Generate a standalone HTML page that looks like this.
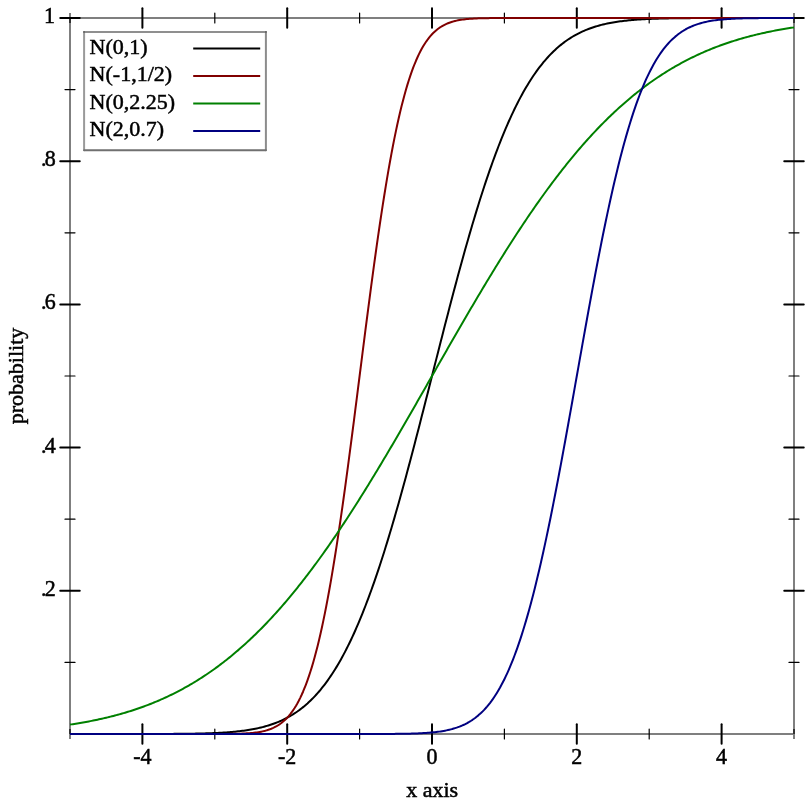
<!DOCTYPE html>
<html><head><meta charset="utf-8"><style>
html,body{margin:0;padding:0;background:#fff;width:812px;height:812px;overflow:hidden}
svg{display:block;will-change:transform}
</style></head><body><svg width="812" height="812" viewBox="0 0 812 812"><rect x="70.0" y="18.0" width="724.0" height="716.0" fill="none" stroke="#7f7f7f" stroke-width="2"/><line x1="70.0" y1="13.0" x2="70.0" y2="18.0" stroke="#7f7f7f" stroke-width="2"/><line x1="70.0" y1="734.0" x2="70.0" y2="739.0" stroke="#7f7f7f" stroke-width="2"/><line x1="794.0" y1="13.0" x2="794.0" y2="18.0" stroke="#7f7f7f" stroke-width="2"/><line x1="794.0" y1="734.0" x2="794.0" y2="739.0" stroke="#7f7f7f" stroke-width="2"/><g stroke="#000" stroke-width="2" stroke-linecap="round"><line x1="70.00" y1="18.0" x2="70.00" y2="23.0" stroke-linecap="butt" stroke-width="1.2"/><line x1="70.00" y1="729.0" x2="70.00" y2="734.0" stroke-linecap="butt" stroke-width="1.2"/><line x1="142.40" y1="8.25" x2="142.40" y2="27.75"/><line x1="142.40" y1="724.25" x2="142.40" y2="743.75"/><line x1="214.80" y1="13.0" x2="214.80" y2="23.0" stroke-width="1.2"/><line x1="214.80" y1="729.0" x2="214.80" y2="739.0" stroke-width="1.2"/><line x1="287.20" y1="8.25" x2="287.20" y2="27.75"/><line x1="287.20" y1="724.25" x2="287.20" y2="743.75"/><line x1="359.60" y1="13.0" x2="359.60" y2="23.0" stroke-width="1.2"/><line x1="359.60" y1="729.0" x2="359.60" y2="739.0" stroke-width="1.2"/><line x1="432.00" y1="8.25" x2="432.00" y2="27.75"/><line x1="432.00" y1="724.25" x2="432.00" y2="743.75"/><line x1="504.40" y1="13.0" x2="504.40" y2="23.0" stroke-width="1.2"/><line x1="504.40" y1="729.0" x2="504.40" y2="739.0" stroke-width="1.2"/><line x1="576.80" y1="8.25" x2="576.80" y2="27.75"/><line x1="576.80" y1="724.25" x2="576.80" y2="743.75"/><line x1="649.20" y1="13.0" x2="649.20" y2="23.0" stroke-width="1.2"/><line x1="649.20" y1="729.0" x2="649.20" y2="739.0" stroke-width="1.2"/><line x1="721.60" y1="8.25" x2="721.60" y2="27.75"/><line x1="721.60" y1="724.25" x2="721.60" y2="743.75"/><line x1="794.00" y1="18.0" x2="794.00" y2="23.0" stroke-linecap="butt" stroke-width="1.2"/><line x1="794.00" y1="729.0" x2="794.00" y2="734.0" stroke-linecap="butt" stroke-width="1.2"/><line x1="65.0" y1="662.40" x2="75.0" y2="662.40" stroke-width="1.2"/><line x1="789.0" y1="662.40" x2="799.0" y2="662.40" stroke-width="1.2"/><line x1="60.25" y1="590.80" x2="79.75" y2="590.80"/><line x1="784.25" y1="590.80" x2="803.75" y2="590.80"/><line x1="65.0" y1="519.20" x2="75.0" y2="519.20" stroke-width="1.2"/><line x1="789.0" y1="519.20" x2="799.0" y2="519.20" stroke-width="1.2"/><line x1="60.25" y1="447.60" x2="79.75" y2="447.60"/><line x1="784.25" y1="447.60" x2="803.75" y2="447.60"/><line x1="65.0" y1="376.00" x2="75.0" y2="376.00" stroke-width="1.2"/><line x1="789.0" y1="376.00" x2="799.0" y2="376.00" stroke-width="1.2"/><line x1="60.25" y1="304.40" x2="79.75" y2="304.40"/><line x1="784.25" y1="304.40" x2="803.75" y2="304.40"/><line x1="65.0" y1="232.80" x2="75.0" y2="232.80" stroke-width="1.2"/><line x1="789.0" y1="232.80" x2="799.0" y2="232.80" stroke-width="1.2"/><line x1="60.25" y1="161.20" x2="79.75" y2="161.20"/><line x1="784.25" y1="161.20" x2="803.75" y2="161.20"/><line x1="65.0" y1="89.60" x2="75.0" y2="89.60" stroke-width="1.2"/><line x1="789.0" y1="89.60" x2="799.0" y2="89.60" stroke-width="1.2"/><line x1="60.25" y1="18.00" x2="79.75" y2="18.00"/><line x1="784.25" y1="18.00" x2="803.75" y2="18.00"/></g><g fill="none" stroke-width="2" stroke-linejoin="round"><path d="M70.00,734.00 L71.45,734.00 L72.90,734.00 L74.34,734.00 L75.79,734.00 L77.24,734.00 L78.69,734.00 L80.14,734.00 L81.58,734.00 L83.03,734.00 L84.48,734.00 L85.93,734.00 L87.38,734.00 L88.82,734.00 L90.27,734.00 L91.72,734.00 L93.17,734.00 L94.62,734.00 L96.06,734.00 L97.51,734.00 L98.96,734.00 L100.41,734.00 L101.86,734.00 L103.30,734.00 L104.75,734.00 L106.20,734.00 L107.65,734.00 L109.10,734.00 L110.54,734.00 L111.99,734.00 L113.44,734.00 L114.89,734.00 L116.34,734.00 L117.78,733.99 L119.23,733.99 L120.68,733.99 L122.13,733.99 L123.58,733.99 L125.02,733.99 L126.47,733.99 L127.92,733.99 L129.37,733.99 L130.82,733.99 L132.26,733.99 L133.71,733.99 L135.16,733.99 L136.61,733.98 L138.06,733.98 L139.50,733.98 L140.95,733.98 L142.40,733.98 L143.85,733.98 L145.30,733.97 L146.74,733.97 L148.19,733.97 L149.64,733.97 L151.09,733.96 L152.54,733.96 L153.98,733.96 L155.43,733.95 L156.88,733.95 L158.33,733.94 L159.78,733.94 L161.22,733.93 L162.67,733.93 L164.12,733.92 L165.57,733.92 L167.02,733.91 L168.46,733.90 L169.91,733.89 L171.36,733.89 L172.81,733.88 L174.26,733.87 L175.70,733.86 L177.15,733.85 L178.60,733.83 L180.05,733.82 L181.50,733.81 L182.94,733.79 L184.39,733.78 L185.84,733.76 L187.29,733.74 L188.74,733.72 L190.18,733.70 L191.63,733.68 L193.08,733.65 L194.53,733.63 L195.98,733.60 L197.42,733.57 L198.87,733.54 L200.32,733.51 L201.77,733.47 L203.22,733.44 L204.66,733.40 L206.11,733.35 L207.56,733.31 L209.01,733.26 L210.46,733.21 L211.90,733.15 L213.35,733.10 L214.80,733.03 L216.25,732.97 L217.70,732.90 L219.14,732.83 L220.59,732.75 L222.04,732.66 L223.49,732.58 L224.94,732.48 L226.38,732.38 L227.83,732.28 L229.28,732.17 L230.73,732.05 L232.18,731.93 L233.62,731.80 L235.07,731.66 L236.52,731.52 L237.97,731.36 L239.42,731.20 L240.86,731.03 L242.31,730.85 L243.76,730.66 L245.21,730.46 L246.66,730.25 L248.10,730.03 L249.55,729.80 L251.00,729.55 L252.45,729.30 L253.90,729.03 L255.34,728.74 L256.79,728.44 L258.24,728.13 L259.69,727.80 L261.14,727.46 L262.58,727.10 L264.03,726.72 L265.48,726.32 L266.93,725.91 L268.38,725.47 L269.82,725.02 L271.27,724.54 L272.72,724.05 L274.17,723.53 L275.62,722.98 L277.06,722.42 L278.51,721.83 L279.96,721.21 L281.41,720.57 L282.86,719.90 L284.30,719.20 L285.75,718.47 L287.20,717.71 L288.65,716.92 L290.10,716.10 L291.54,715.25 L292.99,714.36 L294.44,713.44 L295.89,712.48 L297.34,711.49 L298.78,710.45 L300.23,709.38 L301.68,708.27 L303.13,707.12 L304.58,705.93 L306.02,704.69 L307.47,703.42 L308.92,702.09 L310.37,700.72 L311.82,699.30 L313.26,697.84 L314.71,696.33 L316.16,694.76 L317.61,693.15 L319.06,691.48 L320.50,689.77 L321.95,687.99 L323.40,686.17 L324.85,684.28 L326.30,682.34 L327.74,680.35 L329.19,678.29 L330.64,676.18 L332.09,674.00 L333.54,671.77 L334.98,669.47 L336.43,667.11 L337.88,664.69 L339.33,662.20 L340.78,659.65 L342.22,657.04 L343.67,654.36 L345.12,651.61 L346.57,648.80 L348.02,645.91 L349.46,642.97 L350.91,639.95 L352.36,636.86 L353.81,633.71 L355.26,630.49 L356.70,627.19 L358.15,623.83 L359.60,620.40 L361.05,616.90 L362.50,613.33 L363.94,609.70 L365.39,605.99 L366.84,602.21 L368.29,598.37 L369.74,594.46 L371.18,590.47 L372.63,586.43 L374.08,582.31 L375.53,578.13 L376.98,573.88 L378.42,569.57 L379.87,565.19 L381.32,560.75 L382.77,556.25 L384.22,551.69 L385.66,547.06 L387.11,542.38 L388.56,537.63 L390.01,532.83 L391.46,527.98 L392.90,523.07 L394.35,518.10 L395.80,513.09 L397.25,508.02 L398.70,502.91 L400.14,497.74 L401.59,492.53 L403.04,487.28 L404.49,481.99 L405.94,476.65 L407.38,471.28 L408.83,465.87 L410.28,460.42 L411.73,454.95 L413.18,449.44 L414.62,443.90 L416.07,438.34 L417.52,432.75 L418.97,427.14 L420.42,421.51 L421.86,415.86 L423.31,410.20 L424.76,404.52 L426.21,398.83 L427.66,393.13 L429.10,387.42 L430.55,381.71 L432.00,376.00 L433.45,370.29 L434.90,364.58 L436.34,358.87 L437.79,353.17 L439.24,347.48 L440.69,341.80 L442.14,336.14 L443.58,330.49 L445.03,324.86 L446.48,319.25 L447.93,313.66 L449.38,308.10 L450.82,302.56 L452.27,297.05 L453.72,291.58 L455.17,286.13 L456.62,280.72 L458.06,275.35 L459.51,270.01 L460.96,264.72 L462.41,259.47 L463.86,254.26 L465.30,249.09 L466.75,243.98 L468.20,238.91 L469.65,233.90 L471.10,228.93 L472.54,224.02 L473.99,219.17 L475.44,214.37 L476.89,209.62 L478.34,204.94 L479.78,200.31 L481.23,195.75 L482.68,191.25 L484.13,186.81 L485.58,182.43 L487.02,178.12 L488.47,173.87 L489.92,169.69 L491.37,165.57 L492.82,161.53 L494.26,157.54 L495.71,153.63 L497.16,149.79 L498.61,146.01 L500.06,142.30 L501.50,138.67 L502.95,135.10 L504.40,131.60 L505.85,128.17 L507.30,124.81 L508.74,121.51 L510.19,118.29 L511.64,115.14 L513.09,112.05 L514.54,109.03 L515.98,106.09 L517.43,103.20 L518.88,100.39 L520.33,97.64 L521.78,94.96 L523.22,92.35 L524.67,89.80 L526.12,87.31 L527.57,84.89 L529.02,82.53 L530.46,80.23 L531.91,78.00 L533.36,75.82 L534.81,73.71 L536.26,71.65 L537.70,69.66 L539.15,67.72 L540.60,65.83 L542.05,64.01 L543.50,62.23 L544.94,60.52 L546.39,58.85 L547.84,57.24 L549.29,55.67 L550.74,54.16 L552.18,52.70 L553.63,51.28 L555.08,49.91 L556.53,48.58 L557.98,47.31 L559.42,46.07 L560.87,44.88 L562.32,43.73 L563.77,42.62 L565.22,41.55 L566.66,40.51 L568.11,39.52 L569.56,38.56 L571.01,37.64 L572.46,36.75 L573.90,35.90 L575.35,35.08 L576.80,34.29 L578.25,33.53 L579.70,32.80 L581.14,32.10 L582.59,31.43 L584.04,30.79 L585.49,30.17 L586.94,29.58 L588.38,29.02 L589.83,28.47 L591.28,27.95 L592.73,27.46 L594.18,26.98 L595.62,26.53 L597.07,26.09 L598.52,25.68 L599.97,25.28 L601.42,24.90 L602.86,24.54 L604.31,24.20 L605.76,23.87 L607.21,23.56 L608.66,23.26 L610.10,22.97 L611.55,22.70 L613.00,22.45 L614.45,22.20 L615.90,21.97 L617.34,21.75 L618.79,21.54 L620.24,21.34 L621.69,21.15 L623.14,20.97 L624.58,20.80 L626.03,20.64 L627.48,20.48 L628.93,20.34 L630.38,20.20 L631.82,20.07 L633.27,19.95 L634.72,19.83 L636.17,19.72 L637.62,19.62 L639.06,19.52 L640.51,19.42 L641.96,19.34 L643.41,19.25 L644.86,19.17 L646.30,19.10 L647.75,19.03 L649.20,18.97 L650.65,18.90 L652.10,18.85 L653.54,18.79 L654.99,18.74 L656.44,18.69 L657.89,18.65 L659.34,18.60 L660.78,18.56 L662.23,18.53 L663.68,18.49 L665.13,18.46 L666.58,18.43 L668.02,18.40 L669.47,18.37 L670.92,18.35 L672.37,18.32 L673.82,18.30 L675.26,18.28 L676.71,18.26 L678.16,18.24 L679.61,18.22 L681.06,18.21 L682.50,18.19 L683.95,18.18 L685.40,18.17 L686.85,18.15 L688.30,18.14 L689.74,18.13 L691.19,18.12 L692.64,18.11 L694.09,18.11 L695.54,18.10 L696.98,18.09 L698.43,18.08 L699.88,18.08 L701.33,18.07 L702.78,18.07 L704.22,18.06 L705.67,18.06 L707.12,18.05 L708.57,18.05 L710.02,18.04 L711.46,18.04 L712.91,18.04 L714.36,18.03 L715.81,18.03 L717.26,18.03 L718.70,18.03 L720.15,18.02 L721.60,18.02 L723.05,18.02 L724.50,18.02 L725.94,18.02 L727.39,18.02 L728.84,18.01 L730.29,18.01 L731.74,18.01 L733.18,18.01 L734.63,18.01 L736.08,18.01 L737.53,18.01 L738.98,18.01 L740.42,18.01 L741.87,18.01 L743.32,18.01 L744.77,18.01 L746.22,18.01 L747.66,18.00 L749.11,18.00 L750.56,18.00 L752.01,18.00 L753.46,18.00 L754.90,18.00 L756.35,18.00 L757.80,18.00 L759.25,18.00 L760.70,18.00 L762.14,18.00 L763.59,18.00 L765.04,18.00 L766.49,18.00 L767.94,18.00 L769.38,18.00 L770.83,18.00 L772.28,18.00 L773.73,18.00 L775.18,18.00 L776.62,18.00 L778.07,18.00 L779.52,18.00 L780.97,18.00 L782.42,18.00 L783.86,18.00 L785.31,18.00 L786.76,18.00 L788.21,18.00 L789.66,18.00 L791.10,18.00 L792.55,18.00 L794.00,18.00" stroke="#000000"/><path d="M70.00,734.00 L71.45,734.00 L72.90,734.00 L74.34,734.00 L75.79,734.00 L77.24,734.00 L78.69,734.00 L80.14,734.00 L81.58,734.00 L83.03,734.00 L84.48,734.00 L85.93,734.00 L87.38,734.00 L88.82,734.00 L90.27,734.00 L91.72,734.00 L93.17,734.00 L94.62,734.00 L96.06,734.00 L97.51,734.00 L98.96,734.00 L100.41,734.00 L101.86,734.00 L103.30,734.00 L104.75,734.00 L106.20,734.00 L107.65,734.00 L109.10,734.00 L110.54,734.00 L111.99,734.00 L113.44,734.00 L114.89,734.00 L116.34,734.00 L117.78,734.00 L119.23,734.00 L120.68,734.00 L122.13,734.00 L123.58,734.00 L125.02,734.00 L126.47,734.00 L127.92,734.00 L129.37,734.00 L130.82,734.00 L132.26,734.00 L133.71,734.00 L135.16,734.00 L136.61,734.00 L138.06,734.00 L139.50,734.00 L140.95,734.00 L142.40,734.00 L143.85,734.00 L145.30,734.00 L146.74,734.00 L148.19,734.00 L149.64,734.00 L151.09,734.00 L152.54,734.00 L153.98,734.00 L155.43,734.00 L156.88,734.00 L158.33,734.00 L159.78,734.00 L161.22,734.00 L162.67,734.00 L164.12,734.00 L165.57,734.00 L167.02,734.00 L168.46,734.00 L169.91,734.00 L171.36,734.00 L172.81,734.00 L174.26,734.00 L175.70,734.00 L177.15,734.00 L178.60,734.00 L180.05,734.00 L181.50,734.00 L182.94,734.00 L184.39,734.00 L185.84,734.00 L187.29,734.00 L188.74,734.00 L190.18,734.00 L191.63,734.00 L193.08,734.00 L194.53,734.00 L195.98,734.00 L197.42,734.00 L198.87,734.00 L200.32,734.00 L201.77,734.00 L203.22,733.99 L204.66,733.99 L206.11,733.99 L207.56,733.99 L209.01,733.99 L210.46,733.99 L211.90,733.98 L213.35,733.98 L214.80,733.98 L216.25,733.97 L217.70,733.97 L219.14,733.96 L220.59,733.96 L222.04,733.95 L223.49,733.94 L224.94,733.93 L226.38,733.92 L227.83,733.90 L229.28,733.89 L230.73,733.87 L232.18,733.85 L233.62,733.82 L235.07,733.79 L236.52,733.76 L237.97,733.72 L239.42,733.68 L240.86,733.63 L242.31,733.57 L243.76,733.51 L245.21,733.44 L246.66,733.35 L248.10,733.26 L249.55,733.15 L251.00,733.03 L252.45,732.90 L253.90,732.75 L255.34,732.58 L256.79,732.38 L258.24,732.17 L259.69,731.93 L261.14,731.66 L262.58,731.36 L264.03,731.03 L265.48,730.66 L266.93,730.25 L268.38,729.80 L269.82,729.30 L271.27,728.74 L272.72,728.13 L274.17,727.46 L275.62,726.72 L277.06,725.91 L278.51,725.02 L279.96,724.05 L281.41,722.98 L282.86,721.83 L284.30,720.57 L285.75,719.20 L287.20,717.71 L288.65,716.10 L290.10,714.36 L291.54,712.48 L292.99,710.45 L294.44,708.27 L295.89,705.93 L297.34,703.42 L298.78,700.72 L300.23,697.84 L301.68,694.76 L303.13,691.48 L304.58,687.99 L306.02,684.28 L307.47,680.35 L308.92,676.18 L310.37,671.77 L311.82,667.11 L313.26,662.20 L314.71,657.04 L316.16,651.61 L317.61,645.91 L319.06,639.95 L320.50,633.71 L321.95,627.19 L323.40,620.40 L324.85,613.33 L326.30,605.99 L327.74,598.37 L329.19,590.47 L330.64,582.31 L332.09,573.88 L333.54,565.19 L334.98,556.25 L336.43,547.06 L337.88,537.63 L339.33,527.98 L340.78,518.10 L342.22,508.02 L343.67,497.74 L345.12,487.28 L346.57,476.65 L348.02,465.87 L349.46,454.95 L350.91,443.90 L352.36,432.75 L353.81,421.51 L355.26,410.20 L356.70,398.83 L358.15,387.42 L359.60,376.00 L361.05,364.58 L362.50,353.17 L363.94,341.80 L365.39,330.49 L366.84,319.25 L368.29,308.10 L369.74,297.05 L371.18,286.13 L372.63,275.35 L374.08,264.72 L375.53,254.26 L376.98,243.98 L378.42,233.90 L379.87,224.02 L381.32,214.37 L382.77,204.94 L384.22,195.75 L385.66,186.81 L387.11,178.12 L388.56,169.69 L390.01,161.53 L391.46,153.63 L392.90,146.01 L394.35,138.67 L395.80,131.60 L397.25,124.81 L398.70,118.29 L400.14,112.05 L401.59,106.09 L403.04,100.39 L404.49,94.96 L405.94,89.80 L407.38,84.89 L408.83,80.23 L410.28,75.82 L411.73,71.65 L413.18,67.72 L414.62,64.01 L416.07,60.52 L417.52,57.24 L418.97,54.16 L420.42,51.28 L421.86,48.58 L423.31,46.07 L424.76,43.73 L426.21,41.55 L427.66,39.52 L429.10,37.64 L430.55,35.90 L432.00,34.29 L433.45,32.80 L434.90,31.43 L436.34,30.17 L437.79,29.02 L439.24,27.95 L440.69,26.98 L442.14,26.09 L443.58,25.28 L445.03,24.54 L446.48,23.87 L447.93,23.26 L449.38,22.70 L450.82,22.20 L452.27,21.75 L453.72,21.34 L455.17,20.97 L456.62,20.64 L458.06,20.34 L459.51,20.07 L460.96,19.83 L462.41,19.62 L463.86,19.42 L465.30,19.25 L466.75,19.10 L468.20,18.97 L469.65,18.85 L471.10,18.74 L472.54,18.65 L473.99,18.56 L475.44,18.49 L476.89,18.43 L478.34,18.37 L479.78,18.32 L481.23,18.28 L482.68,18.24 L484.13,18.21 L485.58,18.18 L487.02,18.15 L488.47,18.13 L489.92,18.11 L491.37,18.10 L492.82,18.08 L494.26,18.07 L495.71,18.06 L497.16,18.05 L498.61,18.04 L500.06,18.04 L501.50,18.03 L502.95,18.03 L504.40,18.02 L505.85,18.02 L507.30,18.02 L508.74,18.01 L510.19,18.01 L511.64,18.01 L513.09,18.01 L514.54,18.01 L515.98,18.01 L517.43,18.00 L518.88,18.00 L520.33,18.00 L521.78,18.00 L523.22,18.00 L524.67,18.00 L526.12,18.00 L527.57,18.00 L529.02,18.00 L530.46,18.00 L531.91,18.00 L533.36,18.00 L534.81,18.00 L536.26,18.00 L537.70,18.00 L539.15,18.00 L540.60,18.00 L542.05,18.00 L543.50,18.00 L544.94,18.00 L546.39,18.00 L547.84,18.00 L549.29,18.00 L550.74,18.00 L552.18,18.00 L553.63,18.00 L555.08,18.00 L556.53,18.00 L557.98,18.00 L559.42,18.00 L560.87,18.00 L562.32,18.00 L563.77,18.00 L565.22,18.00 L566.66,18.00 L568.11,18.00 L569.56,18.00 L571.01,18.00 L572.46,18.00 L573.90,18.00 L575.35,18.00 L576.80,18.00 L578.25,18.00 L579.70,18.00 L581.14,18.00 L582.59,18.00 L584.04,18.00 L585.49,18.00 L586.94,18.00 L588.38,18.00 L589.83,18.00 L591.28,18.00 L592.73,18.00 L594.18,18.00 L595.62,18.00 L597.07,18.00 L598.52,18.00 L599.97,18.00 L601.42,18.00 L602.86,18.00 L604.31,18.00 L605.76,18.00 L607.21,18.00 L608.66,18.00 L610.10,18.00 L611.55,18.00 L613.00,18.00 L614.45,18.00 L615.90,18.00 L617.34,18.00 L618.79,18.00 L620.24,18.00 L621.69,18.00 L623.14,18.00 L624.58,18.00 L626.03,18.00 L627.48,18.00 L628.93,18.00 L630.38,18.00 L631.82,18.00 L633.27,18.00 L634.72,18.00 L636.17,18.00 L637.62,18.00 L639.06,18.00 L640.51,18.00 L641.96,18.00 L643.41,18.00 L644.86,18.00 L646.30,18.00 L647.75,18.00 L649.20,18.00 L650.65,18.00 L652.10,18.00 L653.54,18.00 L654.99,18.00 L656.44,18.00 L657.89,18.00 L659.34,18.00 L660.78,18.00 L662.23,18.00 L663.68,18.00 L665.13,18.00 L666.58,18.00 L668.02,18.00 L669.47,18.00 L670.92,18.00 L672.37,18.00 L673.82,18.00 L675.26,18.00 L676.71,18.00 L678.16,18.00 L679.61,18.00 L681.06,18.00 L682.50,18.00 L683.95,18.00 L685.40,18.00 L686.85,18.00 L688.30,18.00 L689.74,18.00 L691.19,18.00 L692.64,18.00 L694.09,18.00 L695.54,18.00 L696.98,18.00 L698.43,18.00 L699.88,18.00 L701.33,18.00 L702.78,18.00 L704.22,18.00 L705.67,18.00 L707.12,18.00 L708.57,18.00 L710.02,18.00 L711.46,18.00 L712.91,18.00 L714.36,18.00 L715.81,18.00 L717.26,18.00 L718.70,18.00 L720.15,18.00 L721.60,18.00 L723.05,18.00 L724.50,18.00 L725.94,18.00 L727.39,18.00 L728.84,18.00 L730.29,18.00 L731.74,18.00 L733.18,18.00 L734.63,18.00 L736.08,18.00 L737.53,18.00 L738.98,18.00 L740.42,18.00 L741.87,18.00 L743.32,18.00 L744.77,18.00 L746.22,18.00 L747.66,18.00 L749.11,18.00 L750.56,18.00 L752.01,18.00 L753.46,18.00 L754.90,18.00 L756.35,18.00 L757.80,18.00 L759.25,18.00 L760.70,18.00 L762.14,18.00 L763.59,18.00 L765.04,18.00 L766.49,18.00 L767.94,18.00 L769.38,18.00 L770.83,18.00 L772.28,18.00 L773.73,18.00 L775.18,18.00 L776.62,18.00 L778.07,18.00 L779.52,18.00 L780.97,18.00 L782.42,18.00 L783.86,18.00 L785.31,18.00 L786.76,18.00 L788.21,18.00 L789.66,18.00 L791.10,18.00 L792.55,18.00 L794.00,18.00" stroke="#800000"/><path d="M70.00,724.60 L71.45,724.38 L72.90,724.16 L74.34,723.93 L75.79,723.70 L77.24,723.47 L78.69,723.23 L80.14,722.98 L81.58,722.73 L83.03,722.48 L84.48,722.22 L85.93,721.96 L87.38,721.69 L88.82,721.42 L90.27,721.14 L91.72,720.86 L93.17,720.57 L94.62,720.27 L96.06,719.97 L97.51,719.67 L98.96,719.35 L100.41,719.04 L101.86,718.71 L103.30,718.39 L104.75,718.05 L106.20,717.71 L107.65,717.36 L109.10,717.01 L110.54,716.65 L111.99,716.29 L113.44,715.91 L114.89,715.54 L116.34,715.15 L117.78,714.76 L119.23,714.36 L120.68,713.96 L122.13,713.54 L123.58,713.12 L125.02,712.70 L126.47,712.26 L127.92,711.82 L129.37,711.37 L130.82,710.92 L132.26,710.45 L133.71,709.98 L135.16,709.51 L136.61,709.02 L138.06,708.52 L139.50,708.02 L140.95,707.51 L142.40,706.99 L143.85,706.47 L145.30,705.93 L146.74,705.39 L148.19,704.83 L149.64,704.27 L151.09,703.70 L152.54,703.12 L153.98,702.54 L155.43,701.94 L156.88,701.34 L158.33,700.72 L159.78,700.10 L161.22,699.46 L162.67,698.82 L164.12,698.17 L165.57,697.51 L167.02,696.84 L168.46,696.16 L169.91,695.46 L171.36,694.76 L172.81,694.05 L174.26,693.33 L175.70,692.60 L177.15,691.86 L178.60,691.11 L180.05,690.34 L181.50,689.57 L182.94,688.79 L184.39,687.99 L185.84,687.19 L187.29,686.37 L188.74,685.54 L190.18,684.71 L191.63,683.86 L193.08,683.00 L194.53,682.13 L195.98,681.24 L197.42,680.35 L198.87,679.44 L200.32,678.52 L201.77,677.59 L203.22,676.65 L204.66,675.70 L206.11,674.74 L207.56,673.76 L209.01,672.77 L210.46,671.77 L211.90,670.76 L213.35,669.73 L214.80,668.69 L216.25,667.64 L217.70,666.58 L219.14,665.51 L220.59,664.42 L222.04,663.32 L223.49,662.20 L224.94,661.08 L226.38,659.94 L227.83,658.79 L229.28,657.63 L230.73,656.45 L232.18,655.26 L233.62,654.06 L235.07,652.84 L236.52,651.61 L237.97,650.37 L239.42,649.11 L240.86,647.84 L242.31,646.56 L243.76,645.27 L245.21,643.96 L246.66,642.63 L248.10,641.30 L249.55,639.95 L251.00,638.59 L252.45,637.21 L253.90,635.82 L255.34,634.42 L256.79,633.00 L258.24,631.57 L259.69,630.12 L261.14,628.67 L262.58,627.19 L264.03,625.71 L265.48,624.21 L266.93,622.70 L268.38,621.17 L269.82,619.63 L271.27,618.08 L272.72,616.51 L274.17,614.93 L275.62,613.33 L277.06,611.73 L278.51,610.10 L279.96,608.47 L281.41,606.82 L282.86,605.16 L284.30,603.48 L285.75,601.79 L287.20,600.09 L288.65,598.37 L290.10,596.64 L291.54,594.89 L292.99,593.14 L294.44,591.37 L295.89,589.58 L297.34,587.78 L298.78,585.97 L300.23,584.15 L301.68,582.31 L303.13,580.46 L304.58,578.60 L306.02,576.72 L307.47,574.83 L308.92,572.93 L310.37,571.02 L311.82,569.09 L313.26,567.15 L314.71,565.19 L316.16,563.23 L317.61,561.25 L319.06,559.26 L320.50,557.26 L321.95,555.24 L323.40,553.22 L324.85,551.18 L326.30,549.13 L327.74,547.06 L329.19,544.99 L330.64,542.90 L332.09,540.80 L333.54,538.69 L334.98,536.57 L336.43,534.44 L337.88,532.30 L339.33,530.14 L340.78,527.98 L342.22,525.80 L343.67,523.62 L345.12,521.42 L346.57,519.21 L348.02,516.99 L349.46,514.76 L350.91,512.53 L352.36,510.28 L353.81,508.02 L355.26,505.75 L356.70,503.48 L358.15,501.19 L359.60,498.89 L361.05,496.59 L362.50,494.28 L363.94,491.95 L365.39,489.62 L366.84,487.28 L368.29,484.93 L369.74,482.58 L371.18,480.21 L372.63,477.84 L374.08,475.46 L375.53,473.07 L376.98,470.68 L378.42,468.28 L379.87,465.87 L381.32,463.45 L382.77,461.03 L384.22,458.60 L385.66,456.17 L387.11,453.73 L388.56,451.28 L390.01,448.82 L391.46,446.37 L392.90,443.90 L394.35,441.43 L395.80,438.96 L397.25,436.48 L398.70,433.99 L400.14,431.51 L401.59,429.01 L403.04,426.51 L404.49,424.01 L405.94,421.51 L407.38,419.00 L408.83,416.49 L410.28,413.97 L411.73,411.46 L413.18,408.93 L414.62,406.41 L416.07,403.89 L417.52,401.36 L418.97,398.83 L420.42,396.30 L421.86,393.76 L423.31,391.23 L424.76,388.69 L426.21,386.15 L427.66,383.62 L429.10,381.08 L430.55,378.54 L432.00,376.00 L433.45,373.46 L434.90,370.92 L436.34,368.38 L437.79,365.85 L439.24,363.31 L440.69,360.77 L442.14,358.24 L443.58,355.70 L445.03,353.17 L446.48,350.64 L447.93,348.11 L449.38,345.59 L450.82,343.07 L452.27,340.54 L453.72,338.03 L455.17,335.51 L456.62,333.00 L458.06,330.49 L459.51,327.99 L460.96,325.49 L462.41,322.99 L463.86,320.49 L465.30,318.01 L466.75,315.52 L468.20,313.04 L469.65,310.57 L471.10,308.10 L472.54,305.63 L473.99,303.18 L475.44,300.72 L476.89,298.27 L478.34,295.83 L479.78,293.40 L481.23,290.97 L482.68,288.55 L484.13,286.13 L485.58,283.72 L487.02,281.32 L488.47,278.93 L489.92,276.54 L491.37,274.16 L492.82,271.79 L494.26,269.42 L495.71,267.07 L497.16,264.72 L498.61,262.38 L500.06,260.05 L501.50,257.72 L502.95,255.41 L504.40,253.11 L505.85,250.81 L507.30,248.52 L508.74,246.25 L510.19,243.98 L511.64,241.72 L513.09,239.47 L514.54,237.24 L515.98,235.01 L517.43,232.79 L518.88,230.58 L520.33,228.38 L521.78,226.20 L523.22,224.02 L524.67,221.86 L526.12,219.70 L527.57,217.56 L529.02,215.43 L530.46,213.31 L531.91,211.20 L533.36,209.10 L534.81,207.01 L536.26,204.94 L537.70,202.87 L539.15,200.82 L540.60,198.78 L542.05,196.76 L543.50,194.74 L544.94,192.74 L546.39,190.75 L547.84,188.77 L549.29,186.81 L550.74,184.85 L552.18,182.91 L553.63,180.98 L555.08,179.07 L556.53,177.17 L557.98,175.28 L559.42,173.40 L560.87,171.54 L562.32,169.69 L563.77,167.85 L565.22,166.03 L566.66,164.22 L568.11,162.42 L569.56,160.63 L571.01,158.86 L572.46,157.11 L573.90,155.36 L575.35,153.63 L576.80,151.91 L578.25,150.21 L579.70,148.52 L581.14,146.84 L582.59,145.18 L584.04,143.53 L585.49,141.90 L586.94,140.27 L588.38,138.67 L589.83,137.07 L591.28,135.49 L592.73,133.92 L594.18,132.37 L595.62,130.83 L597.07,129.30 L598.52,127.79 L599.97,126.29 L601.42,124.81 L602.86,123.33 L604.31,121.88 L605.76,120.43 L607.21,119.00 L608.66,117.58 L610.10,116.18 L611.55,114.79 L613.00,113.41 L614.45,112.05 L615.90,110.70 L617.34,109.37 L618.79,108.04 L620.24,106.73 L621.69,105.44 L623.14,104.16 L624.58,102.89 L626.03,101.63 L627.48,100.39 L628.93,99.16 L630.38,97.94 L631.82,96.74 L633.27,95.55 L634.72,94.37 L636.17,93.21 L637.62,92.06 L639.06,90.92 L640.51,89.80 L641.96,88.68 L643.41,87.58 L644.86,86.49 L646.30,85.42 L647.75,84.36 L649.20,83.31 L650.65,82.27 L652.10,81.24 L653.54,80.23 L654.99,79.23 L656.44,78.24 L657.89,77.26 L659.34,76.30 L660.78,75.35 L662.23,74.41 L663.68,73.48 L665.13,72.56 L666.58,71.65 L668.02,70.76 L669.47,69.87 L670.92,69.00 L672.37,68.14 L673.82,67.29 L675.26,66.46 L676.71,65.63 L678.16,64.81 L679.61,64.01 L681.06,63.21 L682.50,62.43 L683.95,61.66 L685.40,60.89 L686.85,60.14 L688.30,59.40 L689.74,58.67 L691.19,57.95 L692.64,57.24 L694.09,56.54 L695.54,55.84 L696.98,55.16 L698.43,54.49 L699.88,53.83 L701.33,53.18 L702.78,52.54 L704.22,51.90 L705.67,51.28 L707.12,50.66 L708.57,50.06 L710.02,49.46 L711.46,48.88 L712.91,48.30 L714.36,47.73 L715.81,47.17 L717.26,46.61 L718.70,46.07 L720.15,45.53 L721.60,45.01 L723.05,44.49 L724.50,43.98 L725.94,43.48 L727.39,42.98 L728.84,42.49 L730.29,42.02 L731.74,41.55 L733.18,41.08 L734.63,40.63 L736.08,40.18 L737.53,39.74 L738.98,39.30 L740.42,38.88 L741.87,38.46 L743.32,38.04 L744.77,37.64 L746.22,37.24 L747.66,36.85 L749.11,36.46 L750.56,36.09 L752.01,35.71 L753.46,35.35 L754.90,34.99 L756.35,34.64 L757.80,34.29 L759.25,33.95 L760.70,33.61 L762.14,33.29 L763.59,32.96 L765.04,32.65 L766.49,32.33 L767.94,32.03 L769.38,31.73 L770.83,31.43 L772.28,31.14 L773.73,30.86 L775.18,30.58 L776.62,30.31 L778.07,30.04 L779.52,29.78 L780.97,29.52 L782.42,29.27 L783.86,29.02 L785.31,28.77 L786.76,28.53 L788.21,28.30 L789.66,28.07 L791.10,27.84 L792.55,27.62 L794.00,27.40" stroke="#008000"/><path d="M70.00,734.00 L71.45,734.00 L72.90,734.00 L74.34,734.00 L75.79,734.00 L77.24,734.00 L78.69,734.00 L80.14,734.00 L81.58,734.00 L83.03,734.00 L84.48,734.00 L85.93,734.00 L87.38,734.00 L88.82,734.00 L90.27,734.00 L91.72,734.00 L93.17,734.00 L94.62,734.00 L96.06,734.00 L97.51,734.00 L98.96,734.00 L100.41,734.00 L101.86,734.00 L103.30,734.00 L104.75,734.00 L106.20,734.00 L107.65,734.00 L109.10,734.00 L110.54,734.00 L111.99,734.00 L113.44,734.00 L114.89,734.00 L116.34,734.00 L117.78,734.00 L119.23,734.00 L120.68,734.00 L122.13,734.00 L123.58,734.00 L125.02,734.00 L126.47,734.00 L127.92,734.00 L129.37,734.00 L130.82,734.00 L132.26,734.00 L133.71,734.00 L135.16,734.00 L136.61,734.00 L138.06,734.00 L139.50,734.00 L140.95,734.00 L142.40,734.00 L143.85,734.00 L145.30,734.00 L146.74,734.00 L148.19,734.00 L149.64,734.00 L151.09,734.00 L152.54,734.00 L153.98,734.00 L155.43,734.00 L156.88,734.00 L158.33,734.00 L159.78,734.00 L161.22,734.00 L162.67,734.00 L164.12,734.00 L165.57,734.00 L167.02,734.00 L168.46,734.00 L169.91,734.00 L171.36,734.00 L172.81,734.00 L174.26,734.00 L175.70,734.00 L177.15,734.00 L178.60,734.00 L180.05,734.00 L181.50,734.00 L182.94,734.00 L184.39,734.00 L185.84,734.00 L187.29,734.00 L188.74,734.00 L190.18,734.00 L191.63,734.00 L193.08,734.00 L194.53,734.00 L195.98,734.00 L197.42,734.00 L198.87,734.00 L200.32,734.00 L201.77,734.00 L203.22,734.00 L204.66,734.00 L206.11,734.00 L207.56,734.00 L209.01,734.00 L210.46,734.00 L211.90,734.00 L213.35,734.00 L214.80,734.00 L216.25,734.00 L217.70,734.00 L219.14,734.00 L220.59,734.00 L222.04,734.00 L223.49,734.00 L224.94,734.00 L226.38,734.00 L227.83,734.00 L229.28,734.00 L230.73,734.00 L232.18,734.00 L233.62,734.00 L235.07,734.00 L236.52,734.00 L237.97,734.00 L239.42,734.00 L240.86,734.00 L242.31,734.00 L243.76,734.00 L245.21,734.00 L246.66,734.00 L248.10,734.00 L249.55,734.00 L251.00,734.00 L252.45,734.00 L253.90,734.00 L255.34,734.00 L256.79,734.00 L258.24,734.00 L259.69,734.00 L261.14,734.00 L262.58,734.00 L264.03,734.00 L265.48,734.00 L266.93,734.00 L268.38,734.00 L269.82,734.00 L271.27,734.00 L272.72,734.00 L274.17,734.00 L275.62,734.00 L277.06,734.00 L278.51,734.00 L279.96,734.00 L281.41,734.00 L282.86,734.00 L284.30,734.00 L285.75,734.00 L287.20,734.00 L288.65,734.00 L290.10,734.00 L291.54,734.00 L292.99,734.00 L294.44,734.00 L295.89,734.00 L297.34,734.00 L298.78,734.00 L300.23,734.00 L301.68,734.00 L303.13,734.00 L304.58,734.00 L306.02,734.00 L307.47,734.00 L308.92,734.00 L310.37,734.00 L311.82,734.00 L313.26,734.00 L314.71,734.00 L316.16,734.00 L317.61,734.00 L319.06,734.00 L320.50,734.00 L321.95,734.00 L323.40,734.00 L324.85,734.00 L326.30,734.00 L327.74,734.00 L329.19,734.00 L330.64,734.00 L332.09,734.00 L333.54,734.00 L334.98,734.00 L336.43,734.00 L337.88,734.00 L339.33,734.00 L340.78,734.00 L342.22,734.00 L343.67,734.00 L345.12,734.00 L346.57,734.00 L348.02,734.00 L349.46,734.00 L350.91,734.00 L352.36,734.00 L353.81,734.00 L355.26,734.00 L356.70,733.99 L358.15,733.99 L359.60,733.99 L361.05,733.99 L362.50,733.99 L363.94,733.99 L365.39,733.99 L366.84,733.99 L368.29,733.99 L369.74,733.98 L371.18,733.98 L372.63,733.98 L374.08,733.98 L375.53,733.97 L376.98,733.97 L378.42,733.97 L379.87,733.96 L381.32,733.96 L382.77,733.95 L384.22,733.95 L385.66,733.94 L387.11,733.93 L388.56,733.93 L390.01,733.92 L391.46,733.91 L392.90,733.90 L394.35,733.89 L395.80,733.87 L397.25,733.86 L398.70,733.84 L400.14,733.82 L401.59,733.80 L403.04,733.78 L404.49,733.76 L405.94,733.73 L407.38,733.70 L408.83,733.67 L410.28,733.64 L411.73,733.60 L413.18,733.55 L414.62,733.51 L416.07,733.46 L417.52,733.40 L418.97,733.34 L420.42,733.27 L421.86,733.20 L423.31,733.12 L424.76,733.03 L426.21,732.94 L427.66,732.84 L429.10,732.72 L430.55,732.60 L432.00,732.47 L433.45,732.33 L434.90,732.17 L436.34,732.00 L437.79,731.82 L439.24,731.62 L440.69,731.41 L442.14,731.18 L443.58,730.93 L445.03,730.66 L446.48,730.37 L447.93,730.06 L449.38,729.73 L450.82,729.37 L452.27,728.99 L453.72,728.57 L455.17,728.13 L456.62,727.66 L458.06,727.15 L459.51,726.61 L460.96,726.03 L462.41,725.41 L463.86,724.75 L465.30,724.05 L466.75,723.30 L468.20,722.50 L469.65,721.65 L471.10,720.75 L472.54,719.80 L473.99,718.78 L475.44,717.71 L476.89,716.57 L478.34,715.37 L479.78,714.10 L481.23,712.76 L482.68,711.34 L484.13,709.85 L485.58,708.27 L487.02,706.62 L488.47,704.87 L489.92,703.04 L491.37,701.12 L492.82,699.10 L494.26,696.98 L495.71,694.76 L497.16,692.44 L498.61,690.01 L500.06,687.48 L501.50,684.83 L502.95,682.06 L504.40,679.18 L505.85,676.18 L507.30,673.05 L508.74,669.80 L510.19,666.43 L511.64,662.92 L513.09,659.28 L514.54,655.51 L515.98,651.61 L517.43,647.57 L518.88,643.39 L520.33,639.07 L521.78,634.62 L523.22,630.02 L524.67,625.28 L526.12,620.40 L527.57,615.38 L529.02,610.22 L530.46,604.92 L531.91,599.47 L533.36,593.89 L534.81,588.17 L536.26,582.31 L537.70,576.32 L539.15,570.19 L540.60,563.93 L542.05,557.54 L543.50,551.03 L544.94,544.39 L546.39,537.63 L547.84,530.76 L549.29,523.77 L550.74,516.68 L552.18,509.47 L553.63,502.17 L555.08,494.77 L556.53,487.28 L557.98,479.71 L559.42,472.05 L560.87,464.32 L562.32,456.52 L563.77,448.65 L565.22,440.73 L566.66,432.75 L568.11,424.73 L569.56,416.67 L571.01,408.57 L572.46,400.45 L573.90,392.31 L575.35,384.16 L576.80,376.00 L578.25,367.84 L579.70,359.69 L581.14,351.55 L582.59,343.43 L584.04,335.33 L585.49,327.27 L586.94,319.25 L588.38,311.27 L589.83,303.35 L591.28,295.48 L592.73,287.68 L594.18,279.95 L595.62,272.29 L597.07,264.72 L598.52,257.23 L599.97,249.83 L601.42,242.53 L602.86,235.32 L604.31,228.23 L605.76,221.24 L607.21,214.37 L608.66,207.61 L610.10,200.97 L611.55,194.46 L613.00,188.07 L614.45,181.81 L615.90,175.68 L617.34,169.69 L618.79,163.83 L620.24,158.11 L621.69,152.53 L623.14,147.08 L624.58,141.78 L626.03,136.62 L627.48,131.60 L628.93,126.72 L630.38,121.98 L631.82,117.38 L633.27,112.93 L634.72,108.61 L636.17,104.43 L637.62,100.39 L639.06,96.49 L640.51,92.72 L641.96,89.08 L643.41,85.57 L644.86,82.20 L646.30,78.95 L647.75,75.82 L649.20,72.82 L650.65,69.94 L652.10,67.17 L653.54,64.52 L654.99,61.99 L656.44,59.56 L657.89,57.24 L659.34,55.02 L660.78,52.90 L662.23,50.88 L663.68,48.96 L665.13,47.13 L666.58,45.38 L668.02,43.73 L669.47,42.15 L670.92,40.66 L672.37,39.24 L673.82,37.90 L675.26,36.63 L676.71,35.43 L678.16,34.29 L679.61,33.22 L681.06,32.20 L682.50,31.25 L683.95,30.35 L685.40,29.50 L686.85,28.70 L688.30,27.95 L689.74,27.25 L691.19,26.59 L692.64,25.97 L694.09,25.39 L695.54,24.85 L696.98,24.34 L698.43,23.87 L699.88,23.43 L701.33,23.01 L702.78,22.63 L704.22,22.27 L705.67,21.94 L707.12,21.63 L708.57,21.34 L710.02,21.07 L711.46,20.82 L712.91,20.59 L714.36,20.38 L715.81,20.18 L717.26,20.00 L718.70,19.83 L720.15,19.67 L721.60,19.53 L723.05,19.40 L724.50,19.28 L725.94,19.16 L727.39,19.06 L728.84,18.97 L730.29,18.88 L731.74,18.80 L733.18,18.73 L734.63,18.66 L736.08,18.60 L737.53,18.54 L738.98,18.49 L740.42,18.45 L741.87,18.40 L743.32,18.36 L744.77,18.33 L746.22,18.30 L747.66,18.27 L749.11,18.24 L750.56,18.22 L752.01,18.20 L753.46,18.18 L754.90,18.16 L756.35,18.14 L757.80,18.13 L759.25,18.11 L760.70,18.10 L762.14,18.09 L763.59,18.08 L765.04,18.07 L766.49,18.07 L767.94,18.06 L769.38,18.05 L770.83,18.05 L772.28,18.04 L773.73,18.04 L775.18,18.03 L776.62,18.03 L778.07,18.03 L779.52,18.02 L780.97,18.02 L782.42,18.02 L783.86,18.02 L785.31,18.01 L786.76,18.01 L788.21,18.01 L789.66,18.01 L791.10,18.01 L792.55,18.01 L794.00,18.01" stroke="#000080"/></g><g style="font-family:'Liberation Serif',serif" font-size="22" fill="#000" stroke="#000" stroke-width="0.5"><text transform="translate(142.40,763.80) scale(1,1.025)" text-anchor="middle">-4</text><text transform="translate(287.20,763.80) scale(1,1.025)" text-anchor="middle">-2</text><text transform="translate(432.00,763.80) scale(1,1.025)" text-anchor="middle">0</text><text transform="translate(576.80,763.80) scale(1,1.025)" text-anchor="middle">2</text><text transform="translate(721.60,763.80) scale(1,1.025)" text-anchor="middle">4</text><text transform="translate(55.70,595.80) scale(1,1.025)" text-anchor="end">.<tspan dx="-1.8">2</tspan></text><text transform="translate(55.70,452.60) scale(1,1.025)" text-anchor="end">.<tspan dx="-1.8">4</tspan></text><text transform="translate(55.70,309.40) scale(1,1.025)" text-anchor="end">.<tspan dx="-1.8">6</tspan></text><text transform="translate(55.70,166.20) scale(1,1.025)" text-anchor="end">.<tspan dx="-1.8">8</tspan></text><text transform="translate(55.10,23.00) scale(1,1.025)" text-anchor="end">1</text><text transform="translate(432.1,796.8)" text-anchor="middle">x axis</text><text transform="translate(23.1,376) rotate(-90)" text-anchor="middle">probability</text></g><rect x="84.1" y="32.0" width="181.79999999999998" height="118.19999999999999" fill="#fff"/><g fill="none" stroke-width="2" stroke-linecap="round" stroke-linejoin="round"><path d="M84.1,32.0 V150.2" stroke="#9a9a9a"/><path d="M265.9,150.2 V32.0" stroke="#8c8c8c"/><path d="M84.1,32.0 H265.9" stroke="#8f8f8f"/><path d="M84.1,150.2 H265.9" stroke="#707070"/></g><circle cx="84.1" cy="32.0" r="0.9" fill="#606060"/><circle cx="265.9" cy="32.0" r="0.9" fill="#606060"/><text transform="translate(89.6,53.90)" style="font-family:'Liberation Serif',serif" font-size="22" stroke="#000" stroke-width="0.5">N(0,1)</text><line x1="193.2" y1="48.40" x2="260.2" y2="48.40" stroke="#000000" stroke-width="2"/><text transform="translate(89.6,81.27)" style="font-family:'Liberation Serif',serif" font-size="22" stroke="#000" stroke-width="0.5">N(-1,1/2)</text><line x1="193.2" y1="75.90" x2="260.2" y2="75.90" stroke="#800000" stroke-width="2"/><text transform="translate(89.6,108.64)" style="font-family:'Liberation Serif',serif" font-size="22" stroke="#000" stroke-width="0.5">N(0,2.25)</text><line x1="193.2" y1="103.40" x2="260.2" y2="103.40" stroke="#008000" stroke-width="2"/><text transform="translate(89.6,136.01)" style="font-family:'Liberation Serif',serif" font-size="22" stroke="#000" stroke-width="0.5">N(2,0.7)</text><line x1="193.2" y1="130.90" x2="260.2" y2="130.90" stroke="#000080" stroke-width="2"/></svg></body></html>
